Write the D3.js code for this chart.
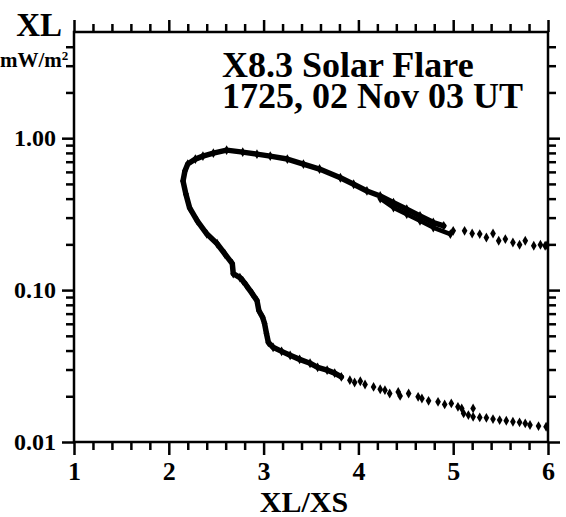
<!DOCTYPE html>
<html><head><meta charset="utf-8">
<script src="https://cdn.jsdelivr.net/npm/d3@7"></script>
<style>
html,body{margin:0;padding:0;background:#fff;}
svg{display:block;}
text{font-family:"Liberation Serif","Times New Roman",serif;font-weight:bold;fill:#000;}
</style></head>
<body>
<svg id="chart" width="566" height="517"></svg>
<script>
// ---- data (XL/XS ratio vs XL flux, mW/m^2) ----
const xMajorTicks = [1, 2, 3, 4, 5, 6];
const xMinorTicks = [1.2,1.4,1.6,1.8,2.2,2.4,2.6,2.8,3.2,3.4,3.6,3.8,4.2,4.4,4.6,4.8,5.2,5.4,5.6,5.8];
const yMajorTicks = [0.01, 0.1, 1];
const yMajorLabels = ["0.01", "0.10", "1.00"];
const yMinorTicks = [0.02,0.03,0.04,0.05,0.06,0.07,0.08,0.09,0.2,0.3,0.4,0.5,0.6,0.7,0.8,0.9,2,3,4];
const titleLines = ["X8.3 Solar Flare", "1725, 02 Nov 03 UT"];

// early phase (sparse dots, bottom branch)
const earlyRatio = [5.98,5.90,5.81,5.76,5.70,5.63,5.56,5.49,5.42,5.35,5.28,5.21,5.21,5.16,5.11,5.09,5.05,4.98,4.91,4.84,4.74,4.67,4.63,4.53,4.44,4.42,4.33,4.28,4.23,4.16,4.07,4.02,3.96,3.91];
const earlyFlux  = [0.0126,0.01273,0.01293,0.01326,0.01347,0.01359,0.01379,0.01394,0.01415,0.01443,0.01452,0.01465,0.01663,0.01503,0.01543,0.01663,0.01704,0.01794,0.01767,0.01838,0.01866,0.01934,0.01982,0.02086,0.02012,0.02137,0.02086,0.02193,0.02226,0.02305,0.02389,0.02512,0.02464,0.02552];

// main phase (dense track: rise, peak, early decay)
const mainRatio = [3.82,3.75,3.67,3.57,3.49,3.38,3.28,3.19,3.10,3.05,3.03,3.01,2.99,2.95,2.93,2.88,2.82,2.78,2.75,2.68,2.67,2.59,2.51,2.40,2.30,2.22,2.18,2.15,2.17,2.20,2.28,2.36,2.47,2.61,2.78,2.93,3.07,3.25,3.42,3.59,3.81,3.95,4.09,4.23,4.37,4.51,4.65,4.79,4.90];
const mainFlux  = [0.02681,0.0284,0.0297,0.0310,0.0330,0.0350,0.0372,0.0395,0.0420,0.0453,0.0519,0.0603,0.0661,0.0734,0.0853,0.0948,0.1070,0.1154,0.1208,0.1283,0.1492,0.1735,0.2018,0.2346,0.2856,0.3475,0.4293,0.5224,0.6075,0.6756,0.7286,0.7621,0.7973,0.8343,0.8093,0.7853,0.7621,0.7286,0.6756,0.6266,0.5493,0.4971,0.4494,0.4166,0.3765,0.3408,0.3080,0.2784,0.2649];

// second band in decay
const bandRatio = [4.23,4.37,4.51,4.65,4.79,4.97];
const bandFlux  = [0.4010,0.3491,0.3161,0.2856,0.2581,0.2336];

// late decay (sparse dots)
const lateRatio = [5.00,5.12,5.20,5.28,5.35,5.42,5.48,5.55,5.63,5.70,5.76,5.85,5.92,5.97,5.99];
const lateFlux  = [0.2456,0.2456,0.2358,0.2336,0.2219,0.2358,0.2112,0.2166,0.2058,0.1988,0.2112,0.1958,0.1988,0.1958,0.1972];

// ---- layout ----
const svg = d3.select("#chart");
const L = 74, R = 548, T = 32, B = 442;
const x = d3.scaleLinear().domain([1, 6]).range([L, R]);
const y = d3.scaleLog().domain([0.01, 5]).range([B, T]);

const zip = (a, b) => a.map((v, i) => [v, b[i]]);
const lw = 2.5;
const FONT = "'Liberation Serif','Times New Roman',serif";

function styleAxis(g) {
  g.select(".domain").remove();
  g.selectAll(".tick line").attr("stroke", "#000").attr("stroke-width", lw);
}

// bottom axis
svg.append("g").attr("transform", `translate(0,${B})`)
  .call(d3.axisBottom(x).tickValues(xMinorTicks).tickSize(8).tickFormat(""))
  .call(styleAxis);
svg.append("g").attr("transform", `translate(0,${B})`)
  .call(d3.axisBottom(x).tickValues(xMajorTicks).tickSize(13).tickPadding(7).tickFormat(d3.format("d")))
  .call(styleAxis)
  .call(g => g.selectAll("text").style("font-size", "26px").style("font-family", FONT).style("font-weight", "bold"));
// top axis
svg.append("g").attr("transform", `translate(0,${T})`)
  .call(d3.axisTop(x).tickValues(xMinorTicks).tickSize(8).tickFormat(""))
  .call(styleAxis);
svg.append("g").attr("transform", `translate(0,${T})`)
  .call(d3.axisTop(x).tickValues(xMajorTicks).tickSize(12).tickFormat(""))
  .call(styleAxis);
// left axis
svg.append("g").attr("transform", `translate(${L},0)`)
  .call(d3.axisLeft(y).tickValues(yMinorTicks).tickSize(8).tickFormat(""))
  .call(styleAxis);
svg.append("g").attr("transform", `translate(${L},0)`)
  .call(d3.axisLeft(y).tickValues(yMajorTicks).tickSize(12).tickPadding(6).tickFormat((d, i) => yMajorLabels[i]))
  .call(styleAxis)
  .call(g => g.selectAll("text").style("font-size", "24px").style("font-family", FONT).style("font-weight", "bold"));
// right axis
svg.append("g").attr("transform", `translate(${R},0)`)
  .call(d3.axisRight(y).tickValues(yMinorTicks).tickSize(8).tickFormat(""))
  .call(styleAxis);
svg.append("g").attr("transform", `translate(${R},0)`)
  .call(d3.axisRight(y).tickValues(yMajorTicks).tickSize(12).tickFormat(""))
  .call(styleAxis);

// frame
svg.append("rect").attr("x", L).attr("y", T).attr("width", R - L).attr("height", B - T)
  .attr("fill", "none").attr("stroke", "#000").attr("stroke-width", lw);

// ---- data marks ----
const line = d3.line().x(d => x(d[0])).y(d => y(d[1])).curve(d3.curveLinear);
svg.append("path").datum(zip(mainRatio, mainFlux)).attr("d", line)
  .attr("fill", "none").attr("stroke", "#000").attr("stroke-width", 5.5)
  .attr("stroke-linejoin", "round").attr("stroke-linecap", "round");
svg.append("path").datum(zip(bandRatio, bandFlux)).attr("d", line)
  .attr("fill", "none").attr("stroke", "#000").attr("stroke-width", 4.5)
  .attr("stroke-linejoin", "round").attr("stroke-linecap", "round");

const dotPts = [].concat(zip(earlyRatio, earlyFlux), zip(mainRatio, mainFlux), zip(bandRatio, bandFlux), zip(lateRatio, lateFlux));
svg.append("g").selectAll("path").data(dotPts).join("path")
  .attr("transform", d => `translate(${x(d[0])},${y(d[1])})`)
  .attr("d", d3.symbol(d3.symbolDiamond, 28))
  .attr("fill", "#000");

// ---- texts ----
svg.append("text").attr("x", 62).attr("y", 36).attr("text-anchor", "end")
  .style("font-size", "33px").text("XL");
const unit = svg.append("text").attr("x", 0).attr("y", 67).style("font-size", "21px");
unit.append("tspan").text("mW/m");
unit.append("tspan").attr("dy", -7).style("font-size", "13px").text("2");
const title = svg.append("text").attr("x", 222).attr("y", 77).style("font-size", "36px");
title.selectAll("tspan").data(titleLines).join("tspan")
  .attr("x", 222).attr("dy", (d, i) => i === 0 ? 0 : 31).text(d => d);
svg.append("text").attr("x", 304).attr("y", 512).attr("text-anchor", "middle")
  .style("font-size", "30px").text("XL/XS");
</script>
</body></html>
